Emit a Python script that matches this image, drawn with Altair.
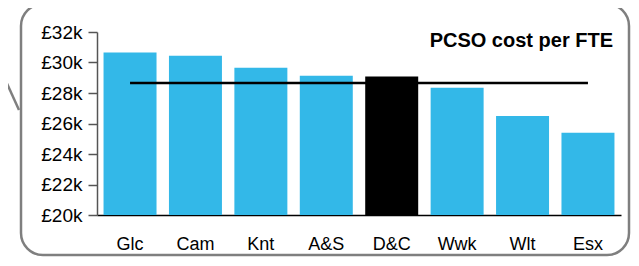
import altair as alt
import pandas as pd

categories = ["Glc", "Cam", "Knt", "A&S", "D&C", "Wwk", "Wlt", "Esx"]
values = [30660, 30450, 29660, 29130, 29090, 28340, 26500, 25390]
average = 28650
highlight = "D&C"
y_ticks = [20000, 22000, 24000, 26000, 28000, 30000, 32000]
title_text = "PCSO cost per FTE"

df = pd.DataFrame({"cat": categories, "val": values, "avg": [average] * len(categories)})
one = pd.DataFrame({"a": [0]})

FONT = "Liberation Sans"
W, H = 524, 183

x_axis = alt.Axis(labelAngle=0, ticks=False, tickSize=0, labelPadding=20,
                  domainColor="black", domainWidth=1.5,
                  labelFont=FONT, labelFontSize=18, labelColor="black")
y_axis = alt.Axis(values=y_ticks, tickCount=7, labelExpr="'£' + datum.value/1000 + 'k'",
                  grid=False, tickSize=9, tickColor="#555555", tickWidth=1.5,
                  domainColor="#555555", domainWidth=1.5, labelPadding=6,
                  labelOverlap=False, labelFlush=False,
                  labelFont=FONT, labelFontSize=19, labelColor="black")
x_scale = alt.Scale(paddingInner=0.19, paddingOuter=0.1)
y_scale = alt.Scale(domain=[20000, 32000], nice=False, zero=False)

bars = alt.Chart(df).mark_bar().encode(
    x=alt.X("cat:N", sort=categories, title=None, scale=x_scale, axis=x_axis),
    y=alt.Y("val:Q", scale=y_scale, title=None, axis=y_axis),
    y2="base:Q",
    color=alt.condition(alt.datum.cat == highlight, alt.value("black"), alt.value("#33b8e8")),
).transform_calculate(base="20000")

avg_line = alt.Chart(df).mark_line(color="black", strokeWidth=2.5).encode(
    x=alt.X("cat:N", sort=categories, title=None, scale=x_scale, axis=x_axis),
    y=alt.Y("avg:Q", scale=y_scale, title=None, axis=y_axis),
)

title = alt.Chart(one).mark_text(
    text=title_text, font=FONT, fontSize=20, fontWeight="bold", align="right",
    baseline="alphabetic", color="black"
).encode(x=alt.value(516), y=alt.value(14.5))

border = alt.Chart(one).mark_rect(
    fillOpacity=0, fill="white", stroke="#7f7f7f", strokeWidth=2.5, cornerRadius=22
).encode(x=alt.value(-76), x2=alt.value(532), y=alt.value(-28), y2=alt.value(223))

diag = alt.Chart(one).mark_rule(color="#7f7f7f", strokeWidth=2.5).encode(
    x=alt.value(-97), x2=alt.value(-78), y=alt.value(36), y2=alt.value(78))

chart = alt.layer(border, diag, bars, avg_line, title).properties(
    width=W, height=H,
    autosize=alt.AutoSizeParams(type="none"),
    padding={"left": 89, "top": 24, "right": 10, "bottom": 43},
).configure_view(stroke=None)

chart.save("out.html", embed_options={"renderer": "svg", "actions": False})
